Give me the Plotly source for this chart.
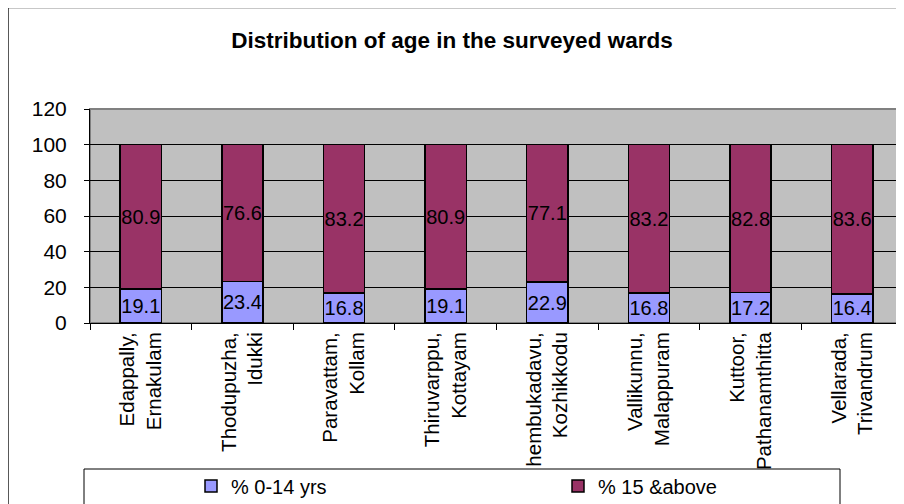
import plotly.graph_objects as go

categories = [
    "Edappally,<br>Ernakulam",
    "Thodupuzha,<br>Idukki",
    "Paravattam,<br>Kollam",
    "Thiruvarppu,<br>Kottayam",
    "hembukadavu,<br>Kozhikkodu",
    "Vallikunnu,<br>Malappuram",
    "Kuttoor,<br>Pathanamthitta",
    "Vellarada,<br>Trivandrum",
]
age_0_14 = [19.1, 23.4, 16.8, 19.1, 22.9, 16.8, 17.2, 16.4]
age_15_above = [80.9, 76.6, 83.2, 80.9, 77.1, 83.2, 82.8, 83.6]
series_names = ["% 0-14 yrs", "% 15 &above"]
y_ticks = [0, 20, 40, 60, 80, 100, 120]

FONT = "Liberation Sans, Arial, sans-serif"
OFF = 8  # page offset of the figure (browser body margin)
W, H = 904 - OFF, 504 - OFF
# plot area in page pixels: x 90..903, y 109..323
ML, MT = 90 - OFF, 109 - OFF
MR, MB = W - (903 - OFF), H - (323 - OFF)
PW, PH = W - ML - MR, H - MT - MB


def px_x(px):
    return (px - OFF - ML) / PW


def px_y(py):
    return (H - MB - (py - OFF)) / PH


fig = go.Figure()
for name, vals, color in [
    (series_names[0], age_0_14, "#9999FF"),
    (series_names[1], age_15_above, "#993366"),
]:
    fig.add_trace(go.Bar(
        x=categories, y=vals, name=name,
        marker=dict(color=color, line=dict(color="black", width=1.5)),
        width=0.405,
        text=[f"{v:.1f}" for v in vals],
        textposition="inside", insidetextanchor="middle",
        textangle=0, constraintext="none",
        textfont=dict(family=FONT, size=20, color="black"),
        hoverinfo="skip",
    ))

shapes = [
    # outer chart border
    dict(type="rect", xref="paper", yref="paper",
         x0=px_x(8), x1=px_x(920), y0=px_y(7.5), y1=px_y(520),
         line=dict(color="#222222", width=1.5), fillcolor="rgba(0,0,0,0)", layer="below"),
    # plot area border
    dict(type="rect", xref="paper", yref="paper", x0=0, x1=1, y0=0, y1=1,
         line=dict(color="#808080", width=2), layer="below"),
    # legend box
    dict(type="rect", xref="paper", yref="paper",
         x0=px_x(84), x1=px_x(840), y0=px_y(469), y1=px_y(520),
         line=dict(color="black", width=1), fillcolor="white", layer="below"),
]

fig.update_layout(
    width=W, height=H,
    margin=dict(l=ML, r=MR, t=MT, b=MB, autoexpand=False),
    paper_bgcolor="white",
    plot_bgcolor="#C0C0C0",
    barmode="stack",
    font=dict(family=FONT, color="black"),
    title=dict(text="<b>Distribution of age in the surveyed wards</b>",
               x=(452 - OFF) / W, xref="container", xanchor="center",
               y=1 - (40 - OFF) / H, yref="container", yanchor="middle",
               font=dict(family=FONT, size=22.5, color="black")),
    shapes=shapes,
    showlegend=True,
    legend=dict(orientation="h", traceorder="normal",
                xref="container", yref="container",
                x=(191 - OFF) / W, xanchor="left",
                y=1 - (486 - OFF) / H, yanchor="middle",
                bgcolor="rgba(0,0,0,0)", borderwidth=0,
                entrywidth=322, entrywidthmode="pixels",
                font=dict(family=FONT, size=20, color="black")),
    xaxis=dict(
        type="category", range=[-0.5, 7.5], automargin=False,
        tickangle=-90, tickfont=dict(family=FONT, size=20.5, color="black"),
        ticks="outside", tickson="boundaries", ticklen=6, tickcolor="black",
        showline=True, linecolor="black", linewidth=1,
        showgrid=False, zeroline=False, fixedrange=True,
    ),
    yaxis=dict(
        range=[0, 120], tickvals=y_ticks, automargin=False,
        tickfont=dict(family=FONT, size=21, color="black"),
        ticks="outside", ticklen=5, tickcolor="black",
        ticklabelstandoff=13,
        showline=True, linecolor="black", linewidth=1,
        showgrid=True, gridcolor="black", gridwidth=1,
        zeroline=False, fixedrange=True,
    ),
)

fig.write_html("out.html")
